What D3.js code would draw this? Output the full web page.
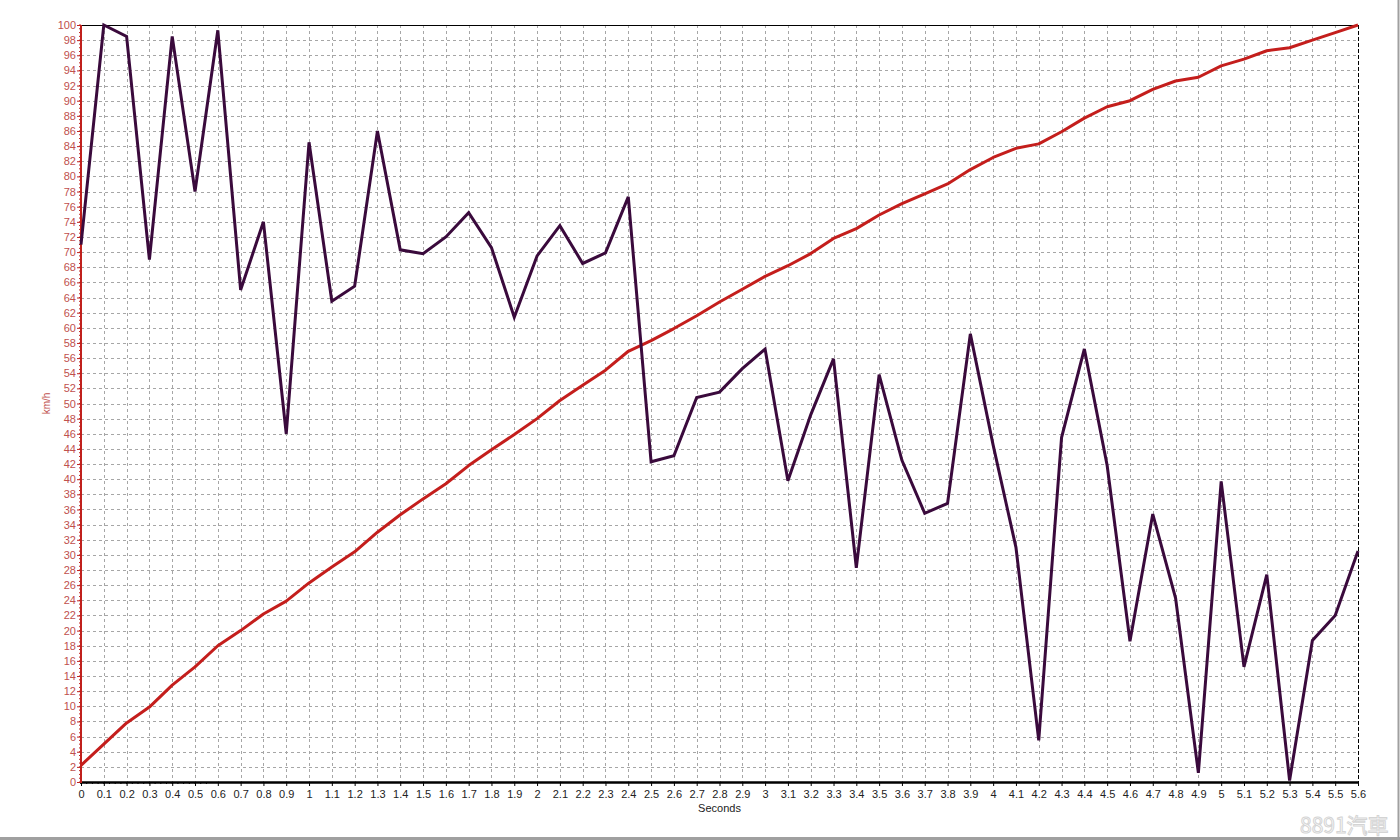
<!DOCTYPE html>
<html>
<head>
<meta charset="utf-8">
<script src="https://cdn.jsdelivr.net/npm/d3@7"></script>
<style>
  html, body { margin: 0; padding: 0; background: #fff; }
  svg { display: block; font-family: "Liberation Sans", Arial, sans-serif; }
</style>
</head>
<body>
<div id="chart"></div>
<script>
var WIDTH = 1400;
var HEIGHT = 840;
var LEFT = 81;
var RIGHT = 1358;
var TOP = 25;
var BOTTOM = 782;

// time in seconds
var seconds = [
  0, 0.1, 0.2, 0.3, 0.4, 0.5, 0.6, 0.7, 0.8, 0.9,
  1, 1.1, 1.2, 1.3, 1.4, 1.5, 1.6, 1.7, 1.8, 1.9,
  2, 2.1, 2.2, 2.3, 2.4, 2.5, 2.6, 2.7, 2.8, 2.9,
  3, 3.1, 3.2, 3.3, 3.4, 3.5, 3.6, 3.7, 3.8, 3.9,
  4, 4.1, 4.2, 4.3, 4.4, 4.5, 4.6, 4.7, 4.8, 4.9,
  5, 5.1, 5.2, 5.3, 5.4, 5.5, 5.6
];

// speed (km/h), red line
var speed = [
  2.2, 5, 7.8, 9.9, 12.8, 15.2, 18, 20, 22.2, 23.9,
  26.3, 28.4, 30.4, 33, 35.3, 37.4, 39.4, 41.8, 43.9, 45.9,
  48, 50.4, 52.4, 54.4, 56.9, 58.3, 59.9, 61.6, 63.4, 65.1,
  66.8, 68.2, 69.8, 71.8, 73.1, 74.9, 76.4, 77.7, 79, 80.9,
  82.5, 83.7, 84.3, 85.9, 87.7, 89.2, 90, 91.5, 92.6, 93.1,
  94.6, 95.5, 96.6, 97, 98, 99, 100
];

// acceleration trace, dark purple line
var accel = [
  71, 100, 98.5, 69, 98.5, 78, 99.3, 65, 74, 46,
  84.5, 63.5, 65.5, 86, 70.3, 69.8, 72, 75.2, 70.6, 61.4,
  69.5, 73.5, 68.5, 69.9, 77.3, 42.3, 43.1, 50.8, 51.5, 54.6,
  57.2, 39.8, 48.5, 55.9, 28.3, 53.8, 42.5, 35.5, 36.8, 59.2,
  44.5, 31, 5.5, 45.5, 57.2, 41.8, 18.6, 35.4, 24.3, 1.2,
  39.7, 15.2, 27.4, 0.2, 18.7, 22, 30.5
];

var yTicks = d3.range(0, 101, 2);

var svg = d3.select("#chart").append("svg")
  .attr("width", WIDTH)
  .attr("height", HEIGHT);

svg.append("rect")
  .attr("width", WIDTH)
  .attr("height", HEIGHT)
  .attr("fill", "#fff");

var x = d3.scaleLinear().domain([0, 5.6]).range([LEFT, RIGHT]);
var y = d3.scaleLinear().domain([0, 100]).range([BOTTOM, TOP]);

// dashed grid
var grid = svg.append("g").attr("class", "grid")
  .attr("stroke", "#a6a6a6")
  .attr("stroke-width", 1)
  .attr("stroke-dasharray", "3,3");
grid.selectAll(".vline")
  .data(seconds.slice(1))
  .enter()
  .append("line")
  .attr("x1", function(d) { return Math.round(x(d)) + 0.5; })
  .attr("x2", function(d) { return Math.round(x(d)) + 0.5; })
  .attr("y1", TOP)
  .attr("y2", BOTTOM);
grid.selectAll(".hline")
  .data(yTicks.slice(1, -1))
  .enter()
  .append("line")
  .attr("x1", LEFT)
  .attr("x2", RIGHT)
  .attr("y1", function(d) { return Math.round(y(d)) + 0.5; })
  .attr("y2", function(d) { return Math.round(y(d)) + 0.5; });

// frame: top solid, right dashed
svg.append("line")
  .attr("x1", LEFT).attr("x2", RIGHT)
  .attr("y1", TOP + 0.5).attr("y2", TOP + 0.5)
  .attr("stroke", "#000");
svg.append("line")
  .attr("x1", RIGHT + 0.5).attr("x2", RIGHT + 0.5)
  .attr("y1", TOP).attr("y2", BOTTOM)
  .attr("stroke", "#000")
  .attr("stroke-dasharray", "4,2");

// x axis
var xAxis = svg.append("g")
  .attr("transform", "translate(0," + BOTTOM + ")")
  .call(d3.axisBottom(x)
    .tickValues(seconds)
    .tickSize(4)
    .tickFormat(function(d) { return String(Math.round(d * 10) / 10); }));
xAxis.select(".domain").remove();
xAxis.selectAll(".tick line").attr("stroke", "#000");
xAxis.selectAll(".tick text")
  .attr("fill", "#222")
  .attr("font-size", 11)
  .attr("font-family", "Liberation Sans, Arial, sans-serif")
  .attr("dy", "0.85em");
// minor ticks on x
xAxis.selectAll(".minor")
  .data(d3.range(0, 5.6 * 4 + 0.5).map(function(i) { return i * 0.025; }))
  .enter()
  .append("line")
  .attr("x1", function(d) { return x(d); })
  .attr("x2", function(d) { return x(d); })
  .attr("y1", 0)
  .attr("y2", 2)
  .attr("stroke", "#000");
svg.append("line")
  .attr("x1", LEFT - 1).attr("x2", RIGHT + 1)
  .attr("y1", BOTTOM + 0.5).attr("y2", BOTTOM + 0.5)
  .attr("stroke", "#000")
  .attr("stroke-width", 2.5);

// y axis
var yAxis = svg.append("g")
  .attr("transform", "translate(" + LEFT + ",0)")
  .call(d3.axisLeft(y)
    .tickValues(yTicks)
    .tickSize(4)
    .tickFormat(d3.format("d")));
yAxis.select(".domain").remove();
yAxis.selectAll(".tick line").attr("stroke", "#c0201c");
yAxis.selectAll(".tick text")
  .attr("fill", "#c0504d")
  .attr("font-size", 11)
  .attr("font-family", "Liberation Sans, Arial, sans-serif")
  .attr("x", -5);
yAxis.selectAll(".minor")
  .data(d3.range(0, 201).map(function(i) { return i * 0.5; }))
  .enter()
  .append("line")
  .attr("x1", 0)
  .attr("x2", -2)
  .attr("y1", function(d) { return y(d); })
  .attr("y2", function(d) { return y(d); })
  .attr("stroke", "#c0201c");
svg.append("line")
  .attr("x1", LEFT).attr("x2", LEFT)
  .attr("y1", TOP).attr("y2", BOTTOM + 1)
  .attr("stroke", "#c0201c")
  .attr("stroke-width", 2);

// axis titles
svg.append("text")
  .attr("transform", "translate(50," + ((TOP + BOTTOM) / 2) + ") rotate(-90)")
  .attr("text-anchor", "middle")
  .attr("font-size", 10)
  .attr("fill", "#c0504d")
  .text("km/h");
svg.append("text")
  .attr("x", (LEFT + RIGHT) / 2)
  .attr("y", 812)
  .attr("text-anchor", "middle")
  .attr("font-size", 11)
  .attr("fill", "#222")
  .text("Seconds");

// lines
var line = function(values) {
  return d3.line()
    .x(function(d, i) { return x(seconds[i]); })
    .y(function(d) { return y(d); })(values);
};
svg.append("path")
  .attr("d", line(speed))
  .attr("fill", "none")
  .attr("stroke", "#c41e1c")
  .attr("stroke-width", 3)
  .attr("stroke-linejoin", "round");
svg.append("path")
  .attr("d", line(accel))
  .attr("fill", "none")
  .attr("stroke", "#3a0a3c")
  .attr("stroke-width", 3)
  .attr("stroke-linejoin", "miter");

// outer frame of the screenshot
svg.append("line")
  .attr("x1", 0).attr("x2", WIDTH)
  .attr("y1", 838.5).attr("y2", 838.5)
  .attr("stroke", "#a0a0a0")
  .attr("stroke-width", 3);
svg.append("line")
  .attr("x1", 1398.5).attr("x2", 1398.5)
  .attr("y1", 0).attr("y2", HEIGHT)
  .attr("stroke", "#a0a0a0")
  .attr("stroke-width", 2);

// watermark
svg.append("text")
  .attr("x", 1300)
  .attr("y", 833)
  .attr("font-size", 21)
  .attr("fill", "#fff")
  .attr("stroke", "#d4d4d4")
  .attr("stroke-width", 1)
  .attr("font-family", "Noto Sans CJK TC, sans-serif")
  .text("8891汽車");
</script>
</body>
</html>
